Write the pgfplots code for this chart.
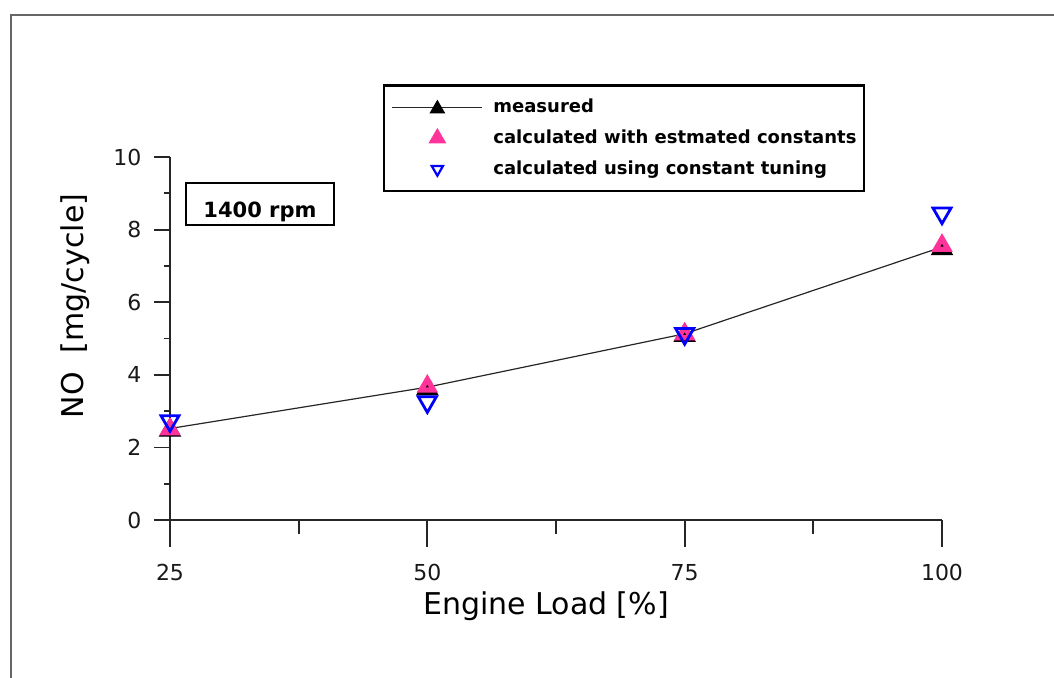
\documentclass[border=0pt]{standalone}
\usepackage{pgfplots}
\pgfplotsset{compat=1.18}
\usepackage{fontspec}
\setmainfont{DejaVu Sans}
\definecolor{mypink}{HTML}{FF3399}
\definecolor{myblue}{HTML}{0000FF}
\definecolor{framegray}{HTML}{666666}
\begin{document}
\begin{tikzpicture}
\useasboundingbox (0,0) rectangle (527pt,338.5pt);
\draw[framegray, line width=1pt] (5.25pt,-5pt) -- (5.25pt,331.25pt) -- (535pt,331.25pt);
\begin{axis}[
  at={(85pt,78.5pt)}, anchor=south west,
  scale only axis, width=386pt, height=181.5pt,
  xmin=25, xmax=100, ymin=0, ymax=10,
  clip=false,
  axis lines=left,
  axis line style={-, line width=0.9pt, black!85},
  xtick={25,50,75,100}, ytick={0,2,4,6,8,10},
  minor x tick num=1, minor y tick num=1,
  tick align=outside,
  tick style={line width=0.9pt, black!85},
  every major x tick/.append style={/pgfplots/major tick length=13.5pt},
  every minor x tick/.append style={/pgfplots/minor tick length=7pt},
  every major y tick/.append style={/pgfplots/major tick length=8pt},
  every minor y tick/.append style={/pgfplots/minor tick length=3pt},
  /pgf/number format/assume math mode=true,
  tick label style={font=\fontsize{11}{13}\selectfont, black!90},
  xticklabel style={anchor=base, yshift=-26pt},
  yticklabel style={xshift=-6.5pt},
  legend cell align=left,
  legend style={
    at={(rel axis cs:0.2756,1.2003)}, anchor=north west,
    draw=black, line width=1.2pt,
    inner xsep=3.9pt, inner ysep=6.4pt,
    font=\bfseries\fontsize{9}{11}\selectfont,
    row sep=6.5pt, column sep=5.5pt,
    nodes={inner sep=0pt, text height=7pt, text depth=2pt},
  },
]
\addplot[gray!30!black, line width=0.6pt, mark=triangle*, mark size=5.9pt,
  mark options={fill=black, draw=black, yshift=-0.8pt},
  legend image code/.code={
    \draw[gray!30!black, line width=0.6pt] (0pt,0pt) -- (44.7pt,0pt);
    \draw[black, fill=black, mark=triangle*, mark size=4pt] plot coordinates {(22.5pt,0pt)};
  }]
  coordinates {(25,2.52) (50,3.66) (75,5.13) (100,7.52)};
\addlegendentry{measured}
\addplot[only marks, mark=triangle, mark size=3.6pt,
  mark options={draw=mypink, line width=2.6pt, line join=miter, fill=none},
  legend image code/.code={
    \path[draw=none] (0pt,0pt) -- (44.7pt,0pt);
    \draw[mypink, line width=1.4pt, line join=miter, mark=triangle, mark size=2.6pt] plot coordinates {(22.5pt,0pt)};
  }]
  coordinates {(25,2.50) (50,3.68) (75,5.12) (100,7.56)};
\addlegendentry{calculated with estmated constants}
\addplot[only marks, mark=triangle, mark size=5.2pt,
  mark options={draw=myblue, line width=1.4pt, rotate=180, fill=none},
  legend image code/.code={
    \path[draw=none] (0pt,0pt) -- (44.7pt,0pt);
    \draw[myblue, line width=1.1pt, mark=triangle, mark size=3.2pt, mark options={rotate=180}] plot coordinates {(22.5pt,0pt)};
  }]
  coordinates {(25,2.73) (50,3.25) (75,5.13) (100,8.45)};
\addlegendentry{calculated using constant tuning}
\node[draw=black, line width=0.8pt, inner sep=0pt, minimum width=74pt,
  text height=17.15pt, text depth=4pt, anchor=base,
  font=\bfseries\fontsize{10.5}{12}\selectfont]
  at (axis cs:33.74,8.347) {1400 rpm};
\node[rotate=90, anchor=center, font=\fontsize{15}{18}\selectfont]
  at (rel axis cs:-0.123,0.5895) {NO\ \ [mg/cycle]};
\node[anchor=base, font=\fontsize{15}{18}\selectfont]
  at (rel axis cs:0.487,-0.259) {Engine Load [\%]};
\end{axis}
\end{tikzpicture}
\end{document}
